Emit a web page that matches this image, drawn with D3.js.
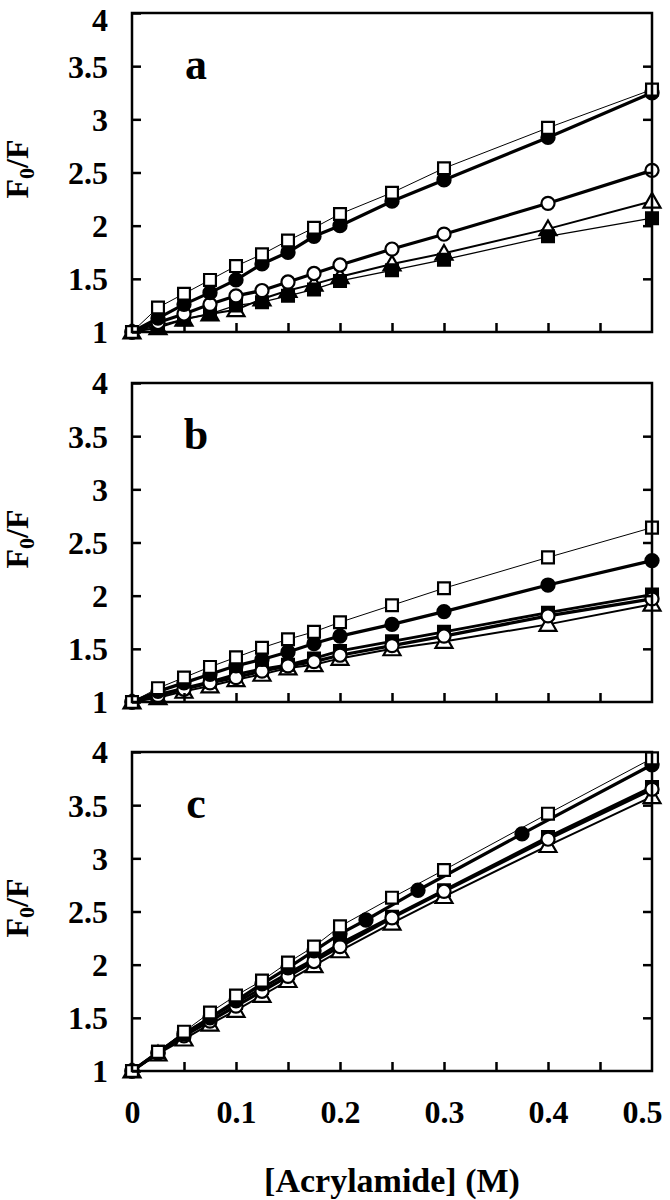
<!DOCTYPE html>
<html>
<head>
<meta charset="utf-8">
<script src="https://cdn.jsdelivr.net/npm/d3@7"></script>
<style>
  body { margin: 0; background: #fff; }
  text { font-family: "Liberation Serif", "Times New Roman", serif; font-weight: bold; fill: #000; }
</style>
</head>
<body>
<svg id="chart" width="670" height="1200"></svg>
<script>
// acrylamide concentrations (M)
const conc = [0, 0.025, 0.05, 0.075, 0.1, 0.125, 0.15, 0.175, 0.2, 0.25, 0.3, 0.4, 0.5];
const concC = [0, 0.025, 0.05, 0.075, 0.1, 0.125, 0.15, 0.175, 0.2, 0.225, 0.275, 0.375, 0.5];

// panel a
const aOpenSquare   = [1, 1.23, 1.36, 1.49, 1.62, 1.73, 1.86, 1.98, 2.11, 2.31, 2.54, 2.92, 3.28];
const aFilledCircle = [1, 1.13, 1.26, 1.37, 1.49, 1.64, 1.75, 1.90, 2.00, 2.23, 2.43, 2.83, 3.25];
const aOpenCircle   = [1, 1.09, 1.17, 1.26, 1.34, 1.39, 1.47, 1.55, 1.63, 1.78, 1.92, 2.21, 2.52];
const aTriangle     = [1, 1.04, 1.12, 1.17, 1.21, 1.31, 1.39, 1.45, 1.52, 1.64, 1.74, 1.97, 2.23];
const aFilledSquare = [1, 1.06, 1.12, 1.17, 1.25, 1.28, 1.34, 1.40, 1.48, 1.58, 1.68, 1.90, 2.07];

// panel b
const bOpenSquare   = [1, 1.13, 1.23, 1.33, 1.42, 1.51, 1.59, 1.66, 1.75, 1.91, 2.07, 2.36, 2.64];
const bFilledCircle = [1, 1.10, 1.18, 1.26, 1.34, 1.40, 1.47, 1.55, 1.62, 1.73, 1.85, 2.10, 2.33];
const bFilledSquare = [1, 1.07, 1.13, 1.19, 1.26, 1.31, 1.35, 1.41, 1.48, 1.57, 1.66, 1.84, 2.01];
const bOpenCircle   = [1, 1.06, 1.12, 1.18, 1.23, 1.29, 1.34, 1.38, 1.44, 1.53, 1.62, 1.81, 1.97];
const bTriangle     = [1, 1.04, 1.10, 1.15, 1.21, 1.26, 1.32, 1.35, 1.41, 1.50, 1.57, 1.73, 1.92];

// panel c
const cOpenSquare   = [1, 1.18, 1.37, 1.55, 1.71, 1.85, 2.02, 2.17, 2.36, 2.63, 2.89, 3.42, 3.94];
const cFilledCircle = [1, 1.17, 1.35, 1.50, 1.66, 1.82, 1.97, 2.13, 2.29, 2.42, 2.70, 3.23, 3.88];
const cFilledSquare = [1, 1.18, 1.35, 1.50, 1.64, 1.78, 1.92, 2.05, 2.20, 2.45, 2.70, 3.20, 3.67];
const cOpenCircle   = [1, 1.17, 1.33, 1.47, 1.61, 1.75, 1.89, 2.03, 2.17, 2.44, 2.69, 3.18, 3.65];
const cTriangle     = [1, 1.16, 1.30, 1.44, 1.57, 1.71, 1.85, 1.99, 2.13, 2.39, 2.64, 3.12, 3.58];

const yTicks = [1, 1.5, 2, 2.5, 3, 3.5, 4];
const xTicks = [0, 0.1, 0.2, 0.3, 0.4, 0.5];
const xMinorTicks = [0.05, 0.1, 0.15, 0.2, 0.25, 0.3, 0.35, 0.4, 0.45];

// marker styles
const styles = {
  openSquare:   { shape: d3.symbolSquare,   size: 140, fill: '#fff', width: 1 },
  filledCircle: { shape: d3.symbolCircle,   size: 135, fill: '#000', width: 3.2 },
  filledSquare: { shape: d3.symbolSquare,   size: 140, fill: '#000', width: 2.8 },
  openCircle:   { shape: d3.symbolCircle,   size: 135, fill: '#fff', width: 3.2 },
  triangle:     { shape: d3.symbolTriangle, size: 125, fill: '#fff', width: 2 }
};

const panels = [
  { label: 'a', top: 13, xs: conc, series: [
    ['triangle', aTriangle], ['filledSquare', aFilledSquare, 1.3], ['openCircle', aOpenCircle],
    ['filledCircle', aFilledCircle], ['openSquare', aOpenSquare]] },
  { label: 'b', top: 383, xs: conc, series: [
    ['triangle', bTriangle], ['filledSquare', bFilledSquare], ['openCircle', bOpenCircle],
    ['filledCircle', bFilledCircle], ['openSquare', bOpenSquare]] },
  { label: 'c', top: 752, xs: conc, series: [
    ['triangle', cTriangle], ['filledSquare', cFilledSquare], ['openCircle', cOpenCircle],
    ['filledCircle', cFilledCircle, null, concC], ['openSquare', cOpenSquare]] }
];

const svg = d3.select('#chart');
const left = 132, right = 652, plotH = 319;

const x = d3.scaleLinear().domain([0, 0.5]).range([left, right]);

panels.forEach((p, i) => {
  const y = d3.scaleLinear().domain([1, 4]).range([p.top + plotH, p.top]);
  const g = svg.append('g').attr('class', 'panel');

  // series lines + markers
  p.series.forEach(([key, vals, lw, xsOver]) => {
    const st = styles[key];
    const xs = xsOver || p.xs;
    const pts = vals.map((v, j) => [xs[j], v]);
    const line = d3.line().x(d => x(d[0])).y(d => y(d[1]));

    g.append('path')
      .attr('d', line(pts))
      .attr('fill', 'none')
      .attr('stroke', '#000')
      .attr('stroke-width', lw || st.width);

    g.selectAll(null)
      .data(pts)
      .enter().append('path')
      .attr('transform', d => `translate(${x(d[0])},${y(d[1]) + (key === 'triangle' ? 1.5 : 0)})`)
      .attr('d', d3.symbol().type(st.shape).size(st.size))
      .attr('fill', st.fill)
      .attr('stroke', '#000')
      .attr('stroke-width', 2.2);
  });

  // frame
  g.append('rect')
    .attr('x', left).attr('y', p.top)
    .attr('width', right - left).attr('height', plotH)
    .attr('fill', 'none').attr('stroke', '#000').attr('stroke-width', 2.5);

  // left axis
  const yAxisL = d3.axisLeft(y).tickValues(yTicks).tickSize(-9).tickPadding(24)
    .tickFormat(d3.format('~g'));
  const gl = g.append('g').attr('transform', `translate(${left},0)`).call(yAxisL);
  gl.select('.domain').remove();
  gl.selectAll('.tick line').attr('stroke-width', 2.5);
  gl.selectAll('.tick text').attr('font-size', 32)
    .attr('dy', d => (i === 0 && d === 4) ? '0.55em' : '0.34em')
    .attr('font-family', '"Liberation Serif", serif').attr('font-weight', 'bold');

  // right axis ticks
  const gr = g.append('g').attr('transform', `translate(${right},0)`)
    .call(d3.axisRight(y).tickValues(yTicks.slice(1, -1)).tickSize(-9).tickFormat(''));
  gr.select('.domain').remove();
  gr.selectAll('.tick line').attr('stroke-width', 2.5);

  // bottom ticks
  const gb = g.append('g').attr('transform', `translate(0,${p.top + plotH})`)
    .call(d3.axisBottom(x).tickValues(i === 2 ? [0].concat(xMinorTicks, [0.5]) : xMinorTicks)
      .tickSize(-9).tickPadding(29)
      .tickFormat(d => (i === 2 && xTicks.some(t => Math.abs(t - d) < 1e-9)) ? d3.format('~g')(d) : ''));
  gb.select('.domain').remove();
  gb.selectAll('.tick line').attr('stroke-width', 2.5)
    .filter(d => d === 0 || d === 0.5).remove();
  gb.selectAll('.tick text').attr('font-size', 32).attr('dy', '0.71em')
    .attr('dx', d => d === 0.5 ? -10 : 0)
    .attr('font-family', '"Liberation Serif", serif').attr('font-weight', 'bold');

  // panel letter
  g.append('text')
    .attr('x', 196).attr('y', p.top + 66)
    .attr('text-anchor', 'middle')
    .attr('font-size', 44)
    .text(p.label);

  // y axis title
  const t = g.append('text')
    .attr('transform', `translate(28,${p.top + 156}) rotate(-90)`)
    .attr('text-anchor', 'middle')
    .attr('font-size', 32);
  t.append('tspan').text('F');
  t.append('tspan').attr('font-size', 22).attr('dy', 6).text('0');
  t.append('tspan').attr('dy', -6).text('/F');
});

// x axis title
svg.append('text')
  .attr('x', (left + right) / 2).attr('y', 1192)
  .attr('text-anchor', 'middle')
  .attr('font-size', 34)
  .text('[Acrylamide] (M)');
</script>
</body>
</html>
